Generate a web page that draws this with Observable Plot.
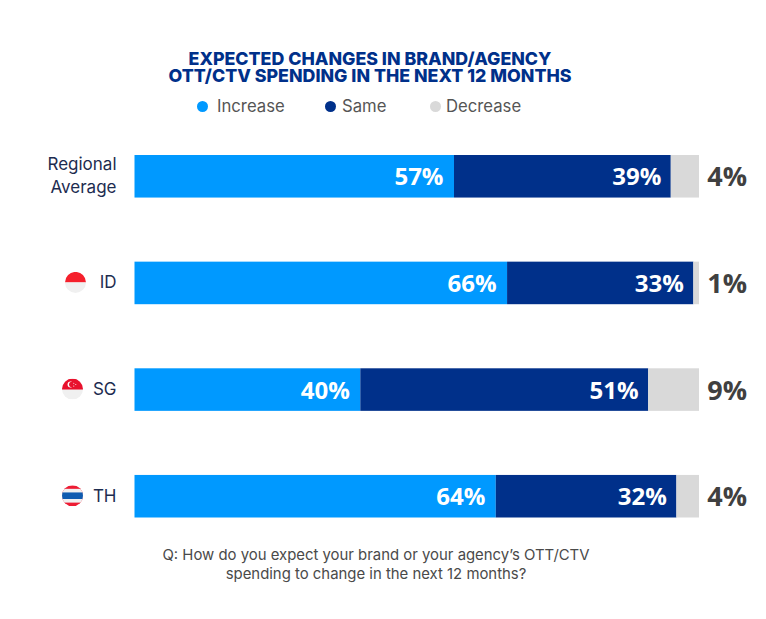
<!DOCTYPE html>
<html>
<head>
<meta charset="utf-8">
<script src="https://cdn.jsdelivr.net/npm/d3@7"></script>
<script src="https://cdn.jsdelivr.net/npm/@observablehq/plot@0.6"></script>
<style>
html,body{margin:0;padding:0;background:#fff;}
#page{position:relative;width:766px;height:619px;overflow:hidden;font-family:Inter,sans-serif;}
#title{position:absolute;left:0;width:740px;top:50px;text-align:center;color:#00308a;font-weight:800;font-size:17.8px;line-height:17px;letter-spacing:0;}
#legend{position:absolute;top:96px;left:0;height:20px;width:766px;color:#555;font-size:16.7px;line-height:20px;}
#legend span{position:absolute;white-space:nowrap;}
#legend i{position:absolute;width:11px;height:11px;border-radius:50%;top:5px;}
#chart{position:absolute;left:0;top:130px;}
#caption{position:absolute;left:0;width:752px;top:546px;text-align:center;color:#4a4a4a;font-size:14.9px;line-height:18.5px;}
svg{display:block;}
</style>
</head>
<body>
<div id="page">
  <div id="title">EXPECTED CHANGES IN BRAND/AGENCY<br>OTT/CTV SPENDING IN THE NEXT 12 MONTHS</div>
  <div id="legend"></div>
  <div id="chart"></div>
  <div id="caption">Q: How do you expect your brand or your agency’s OTT/CTV<br>spending to change in the next 12 months?</div>
</div>
<script>
const categories = ["Regional\nAverage", "ID", "SG", "TH"];
const seriesNames = ["Increase", "Same", "Decrease"];
const seriesColors = ["#0099ff", "#00308a", "#d9d9d9"];
const increase = [56.6, 66, 40, 64];
const same = [38.4, 33, 51, 32];
const decrease = [5, 1, 9, 4];
const increaseLabels = ["57%", "66%", "40%", "64%"];
const sameLabels = ["39%", "33%", "51%", "32%"];
const decreaseLabels = ["4%", "1%", "9%", "4%"];

const flagSvg = {
  ID: `<rect width="32" height="16" fill="#f5202c"/><rect y="16" width="32" height="16" fill="#f0f0f0"/>`,
  SG: `<rect width="32" height="17" fill="#e8112d"/><rect y="17" width="32" height="15" fill="#f0f0f0"/><circle cx="13" cy="9" r="4.5" fill="#fff"/><circle cx="15" cy="9" r="4.2" fill="#e8112d"/><circle cx="18" cy="7" r=".8" fill="#fff"/><circle cx="21" cy="9" r=".8" fill="#fff"/><circle cx="18" cy="11.5" r=".8" fill="#fff"/>`,
  TH: `<rect width="32" height="32" fill="#ed1c34"/><rect y="5.5" width="32" height="21" fill="#f0f0f0"/><rect y="11" width="32" height="10" fill="#0f5bb0"/>`
};
const flagSrc = (body) => "data:image/svg+xml," + encodeURIComponent(
  `<svg xmlns="http://www.w3.org/2000/svg" viewBox="0 0 32 32"><clipPath id="c"><circle cx="16" cy="16" r="16"/></clipPath><g clip-path="url(#c)">${body}</g></svg>`);

const rows = [];
categories.forEach((c, i) => {
  [increase, same, decrease].forEach((arr, s) => rows.push({cat: c, series: seriesNames[s], value: arr[i]}));
});
const ends = categories.map((c, i) => ({
  cat: c,
  inc: increase[i],
  same: increase[i] + same[i],
  incLabel: increaseLabels[i],
  sameLabel: sameLabels[i],
  decLabel: decreaseLabels[i]
}));
const flags = [
  {cat: "ID", dx: -59.5, src: flagSrc(flagSvg.ID)},
  {cat: "SG", dx: -62.5, src: flagSrc(flagSvg.SG)},
  {cat: "TH", dx: -62.5, src: flagSrc(flagSvg.TH)}
];

const lg = d3.select("#legend");
const legendX = [[197, 217], [325, 342], [430, 446]];
seriesNames.forEach((n, i) => {
  lg.append("i").style("left", legendX[i][0] + "px").style("background", seriesColors[i]);
  lg.append("span").style("left", legendX[i][1] + "px").text(n);
});

const boldFont = "'Open Sans', sans-serif";
const plot = Plot.plot({
  width: 766,
  height: 410,
  marginTop: 25,
  marginBottom: 22.5,
  marginLeft: 134.5,
  marginRight: 67,
  style: {fontFamily: "Inter, sans-serif", background: "transparent", overflow: "visible"},
  x: {domain: [0, 100], axis: null},
  y: {domain: categories, paddingInner: 0.601, paddingOuter: 0, align: 0.5, round: false, label: null},
  color: {domain: seriesNames, range: seriesColors},
  marks: [
    Plot.axisY({tickSize: 0, tickPadding: 18.5, fontSize: 17, lineHeight: 1.35, dy: -2.5, color: "#1d2c50", label: null}),
    Plot.barX(rows, Plot.stackX({x: "value", y: "cat", fill: "series", order: seriesNames})),
    Plot.text(ends, {x: "inc", y: "cat", text: "incLabel", textAnchor: "end", dx: -11, dy: 1, fill: "#fff", fontSize: 24, fontWeight: 700, fontFamily: boldFont}),
    Plot.text(ends, {x: "same", y: "cat", text: "sameLabel", textAnchor: "end", dx: -10, dy: 1, fill: "#fff", fontSize: 24, fontWeight: 700, fontFamily: boldFont}),
    Plot.text(ends, {x: () => 100, y: "cat", text: "decLabel", textAnchor: "end", dx: 47.5, dy: 1, fill: "#404040", fontSize: 27, fontWeight: 700, fontFamily: boldFont}),
    ...flags.map((f) => Plot.image([f], {x: () => 0, y: "cat", src: "src", width: 21, height: 21, dx: f.dx, dy: -1, preserveAspectRatio: "xMidYMid meet"}))
  ]
});
document.getElementById("chart").appendChild(plot);
</script>
</body>
</html>
